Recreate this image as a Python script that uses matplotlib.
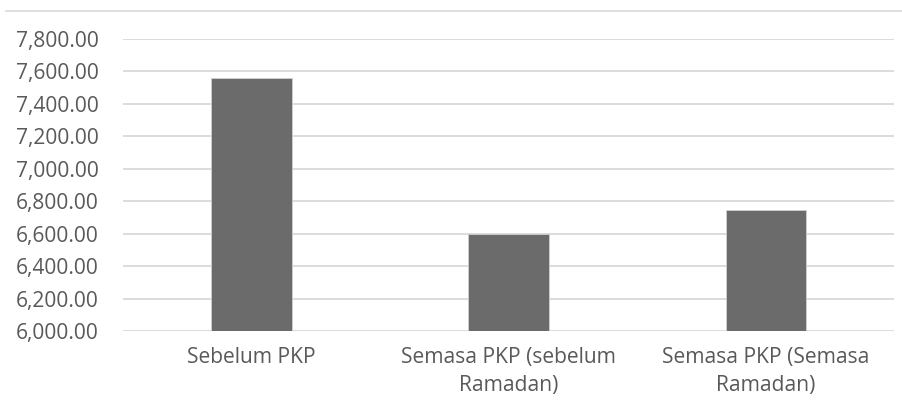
import matplotlib
matplotlib.use("Agg")
import matplotlib.pyplot as plt
from matplotlib.ticker import FuncFormatter
from matplotlib.lines import Line2D

categories = ["Sebelum PKP", "Semasa PKP (sebelum\nRamadan)", "Semasa PKP (Semasa\nRamadan)"]
values = [7561, 6598, 6743]

plt.rcParams['font.family'] = ['Open Sans', 'DejaVu Sans']

fig = plt.figure(figsize=(9.03, 4.01), dpi=100)
ax = fig.add_axes([123/903, 1-331/401, (894.5-123)/903, (331-39)/401])

x = list(range(len(categories)))
ax.bar(x, values, width=0.314, color="#6b6b6b", edgecolor="#d0d0d0", linewidth=0.6, zorder=3)
ax.set_xlim(-0.5, 2.5)
ax.set_ylim(6000, 7800)
ax.set_yticks(range(6000, 7801, 200))
ax.yaxis.set_major_formatter(FuncFormatter(lambda v, p: f"{v:,.2f}"))
ax.grid(axis='y', color="#d9d9d9", linewidth=1.3, zorder=0)
ax.set_xticks(x)
ax.set_xticklabels(categories, linespacing=1.42)
for s in ax.spines.values():
    s.set_visible(False)
ax.tick_params(axis='both', length=0, labelsize=15.1, colors="#595959")
ax.tick_params(axis='y', pad=17.3)
ax.tick_params(axis='x', pad=11.5)

fig.add_artist(Line2D([6/903, 1.0], [1-10.5/401, 1-10.5/401], color="#d9d9d9", linewidth=1.2, transform=fig.transFigure))

fig.savefig("out.png", dpi=100)
